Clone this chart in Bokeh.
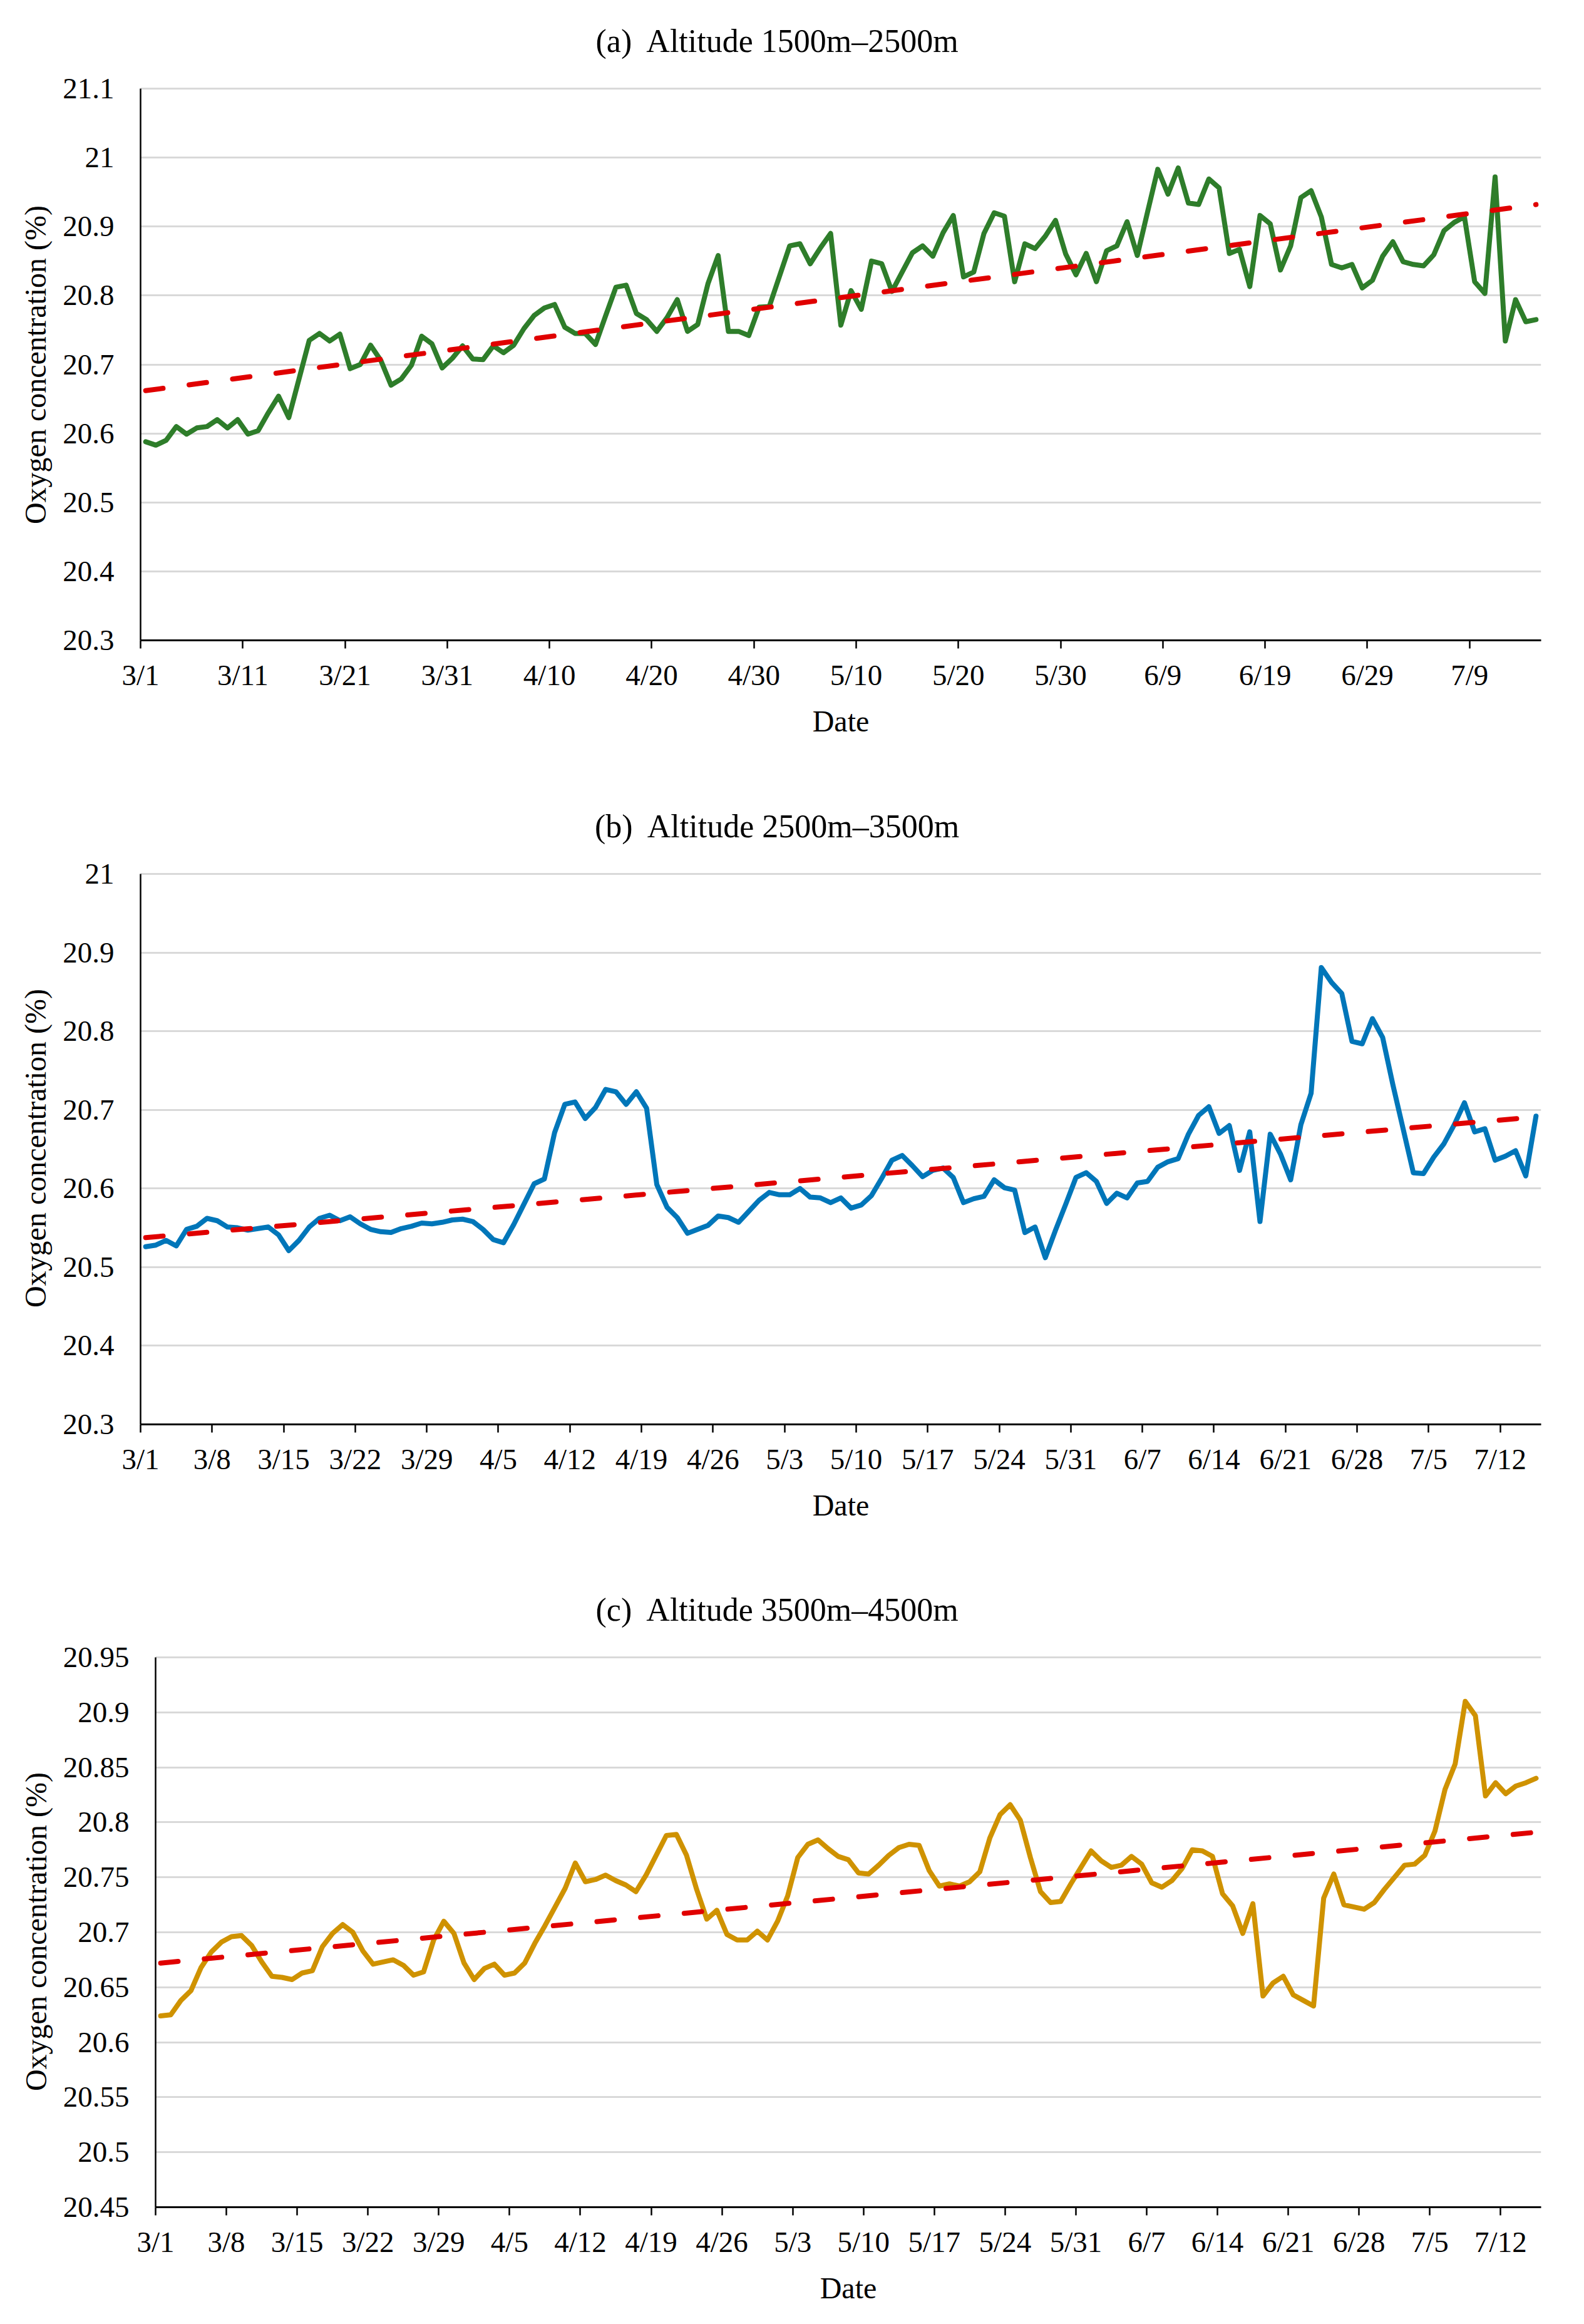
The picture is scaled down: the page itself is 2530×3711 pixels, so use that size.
import numpy as np
from bokeh.plotting import figure
from bokeh.models import FixedTicker, CustomJSTickFormatter, Range1d, Label
from bokeh.embed import file_html
from bokeh.resources import INLINE

# ---------------- data ----------------
ticks_a = ["3/1", "3/11", "3/21", "3/31", "4/10", "4/20", "4/30", "5/10", "5/20",
           "5/30", "6/9", "6/19", "6/29", "7/9"]
ticks_bc = ["3/1", "3/8", "3/15", "3/22", "3/29", "4/5", "4/12", "4/19", "4/26", "5/3",
            "5/10", "5/17", "5/24", "5/31", "6/7", "6/14", "6/21", "6/28", "7/5", "7/12"]

oxygen_a = [20.588, 20.583, 20.590, 20.610, 20.599, 20.608, 20.610, 20.620, 20.608, 20.620,
            20.599, 20.604, 20.630, 20.654, 20.623, 20.679, 20.735, 20.745, 20.734, 20.744,
            20.694, 20.700, 20.728, 20.706, 20.670, 20.679, 20.699, 20.741, 20.730, 20.695,
            20.709, 20.727, 20.708, 20.707, 20.727, 20.717, 20.728, 20.752, 20.771, 20.782,
            20.787, 20.754, 20.745, 20.745, 20.729, 20.771, 20.812, 20.815, 20.774, 20.765,
            20.748, 20.768, 20.794, 20.748, 20.758, 20.817, 20.858, 20.748, 20.748, 20.742,
            20.783, 20.784, 20.828, 20.872, 20.875, 20.846, 20.869, 20.890, 20.757, 20.807,
            20.780, 20.850, 20.846, 20.806, 20.834, 20.862, 20.872, 20.857, 20.891, 20.916,
            20.827, 20.834, 20.890, 20.920, 20.915, 20.820, 20.875, 20.868, 20.886, 20.909,
            20.860, 20.830, 20.861, 20.820, 20.865, 20.872, 20.907, 20.858, 20.921, 20.983,
            20.947, 20.985, 20.934, 20.932, 20.969, 20.956, 20.861, 20.867, 20.813, 20.916,
            20.904, 20.837, 20.872, 20.942, 20.952, 20.914, 20.845, 20.840, 20.845, 20.811,
            20.822, 20.857, 20.878, 20.849, 20.845, 20.843, 20.859, 20.894, 20.906, 20.914,
            20.820, 20.803, 20.972, 20.734, 20.794, 20.762, 20.765]

oxygen_b = [20.526, 20.528, 20.534, 20.527, 20.548, 20.552, 20.562, 20.559, 20.551, 20.550,
            20.547, 20.549, 20.551, 20.541, 20.521, 20.534, 20.551, 20.562, 20.566, 20.559,
            20.564, 20.555, 20.548, 20.545, 20.544, 20.549, 20.552, 20.556, 20.555, 20.557,
            20.560, 20.561, 20.558, 20.548, 20.535, 20.531, 20.554, 20.580, 20.606, 20.612,
            20.671, 20.707, 20.710, 20.689, 20.703, 20.726, 20.723, 20.707, 20.723, 20.702,
            20.605, 20.576, 20.563, 20.543, 20.548, 20.553, 20.565, 20.563, 20.557, 20.571,
            20.585, 20.595, 20.592, 20.592, 20.600, 20.589, 20.588, 20.582, 20.588, 20.575,
            20.579, 20.591, 20.613, 20.636, 20.642, 20.629, 20.615, 20.623, 20.626, 20.614,
            20.582, 20.587, 20.590, 20.611, 20.601, 20.598, 20.544, 20.551, 20.512, 20.547,
            20.580, 20.614, 20.620, 20.609, 20.581, 20.594, 20.588, 20.607, 20.609, 20.627,
            20.634, 20.638, 20.669, 20.693, 20.704, 20.670, 20.680, 20.623, 20.672, 20.558,
            20.669, 20.644, 20.611, 20.681, 20.721, 20.881, 20.862, 20.848, 20.787, 20.784,
            20.816, 20.792, 20.732, 20.676, 20.620, 20.619, 20.640, 20.657, 20.681, 20.709,
            20.672, 20.676, 20.636, 20.641, 20.648, 20.616, 20.692]

oxygen_c = [20.624, 20.625, 20.638, 20.647, 20.668, 20.682, 20.691, 20.696, 20.697, 20.688,
            20.673, 20.660, 20.659, 20.657, 20.663, 20.665, 20.687, 20.699, 20.707, 20.700,
            20.683, 20.671, 20.673, 20.675, 20.670, 20.661, 20.664, 20.693, 20.710, 20.699,
            20.672, 20.657, 20.667, 20.671, 20.661, 20.663, 20.672, 20.690, 20.706, 20.723,
            20.740, 20.763, 20.746, 20.748, 20.752, 20.747, 20.743, 20.737, 20.752, 20.770,
            20.788, 20.789, 20.770, 20.739, 20.712, 20.720, 20.698, 20.693, 20.693, 20.701,
            20.693, 20.710, 20.733, 20.768, 20.780, 20.784, 20.776, 20.769, 20.766, 20.754,
            20.753, 20.761, 20.770, 20.777, 20.780, 20.779, 20.756, 20.742, 20.744, 20.742,
            20.746, 20.755, 20.786, 20.807, 20.816, 20.802, 20.768, 20.737, 20.727, 20.728,
            20.744, 20.759, 20.774, 20.765, 20.759, 20.761, 20.769, 20.762, 20.745, 20.741,
            20.747, 20.758, 20.775, 20.774, 20.769, 20.735, 20.724, 20.699, 20.726, 20.642,
            20.654, 20.660, 20.643, 20.638, 20.633, 20.731, 20.753, 20.725, 20.723, 20.721,
            20.727, 20.739, 20.750, 20.761, 20.762, 20.770, 20.792, 20.830, 20.853, 20.910,
            20.897, 20.824, 20.836, 20.826, 20.833, 20.836, 20.840]

yticks_a = [20.3, 20.4, 20.5, 20.6, 20.7, 20.8, 20.9, 21.0, 21.1]
yticks_b = [20.3, 20.4, 20.5, 20.6, 20.7, 20.8, 20.9, 21.0]
yticks_c = [20.45, 20.5, 20.55, 20.6, 20.65, 20.7, 20.75, 20.8, 20.85, 20.9, 20.95]

titles = ["(a)\u00a0 Altitude 1500m\u20132500m",
          "(b)\u00a0 Altitude 2500m\u20133500m",
          "(c)\u00a0 Altitude 3500m\u20134500m"]
y_label = "Oxygen concentration (%)"
x_label = "Date"

FONT = "Liberation Serif"
RED = "#e00000"
WIDTH = 2514
RIGHT = 53
TOP_MIN = 10


def make_panel(values, title, color, yticks, xlabels, xstep, height, top, bottom, left):
    n = len(values)
    x = np.arange(n) + 0.5
    y = np.array(values)
    ylo, yhi = yticks[0], yticks[-1]
    # plot-area height for the value axis; the range is extended upward so the
    # title can sit inside the (blank) top strip of the frame
    fh = height - top - bottom
    per_px = (yhi - ylo) / fh
    y_end = yhi + (top - TOP_MIN) * per_px
    p = figure(width=WIDTH, height=height, output_backend="svg", toolbar_location=None,
               x_range=Range1d(0, n), y_range=Range1d(ylo, y_end),
               min_border_left=left, min_border_right=RIGHT,
               min_border_top=TOP_MIN, min_border_bottom=bottom)
    p.outline_line_color = None
    p.background_fill_color = "white"
    p.border_fill_color = "white"
    p.title.text = ""
    p.title.standoff = 0

    fw = WIDTH - left - RIGHT
    cx = (1242 - left) / fw * n
    ty = yhi + 76.0 * per_px
    p.add_layout(Label(x=cx, y=ty, text=title, text_font=FONT, text_font_size="52px",
                       text_color="black", text_align="center",
                       text_baseline="alphabetic"))

    # axes
    p.xaxis.ticker = FixedTicker(ticks=[i * xstep for i in range(len(xlabels))])
    p.xaxis.formatter = CustomJSTickFormatter(
        args=dict(labels=xlabels, step=xstep),
        code="var k = Math.round(tick/step); return (k >= 0 && k < labels.length) ? labels[k] : '';")
    p.yaxis.ticker = FixedTicker(ticks=yticks)
    p.yaxis.formatter = CustomJSTickFormatter(code="return String(Math.round(tick*100)/100);")
    p.yaxis.bounds = (ylo, yhi)

    for ax in (p.xaxis[0], p.yaxis[0]):
        ax.major_label_text_font = FONT
        ax.major_label_text_font_size = "47px"
        ax.major_label_text_color = "black"
        ax.axis_label_text_font = FONT
        ax.axis_label_text_font_size = "48px"
        ax.axis_label_text_font_style = "normal"
        ax.axis_label_text_color = "black"
        ax.axis_line_color = "black"
        ax.minor_tick_line_color = None

    p.xaxis.axis_label = x_label
    p.xaxis.axis_line_width = 3
    p.xaxis.major_tick_line_width = 2.5
    p.xaxis.major_tick_line_color = "black"
    p.xaxis.major_tick_out = 13
    p.xaxis.major_tick_in = 0
    p.xaxis.major_label_standoff = 16
    p.xaxis.axis_label_standoff = 18

    # the label is centred on the whole frame; pad its far end (12px per
    # no-break space) so the visible text is centred on the value axis
    pad = int(round((top - TOP_MIN) / 12.0))
    p.yaxis.axis_label = y_label + "\u00a0" * pad
    p.yaxis.axis_line_width = 2.5
    p.yaxis.major_tick_line_color = None
    p.yaxis.major_tick_out = 0
    p.yaxis.major_tick_in = 0
    p.yaxis.major_label_standoff = 42
    p.yaxis.axis_label_standoff = 14

    p.xgrid.grid_line_color = None
    p.ygrid.grid_line_color = "#d9d9d9"
    p.ygrid.grid_line_width = 3

    p.line(x, y, line_color=color, line_width=8, line_join="round", line_cap="round")

    # linear trend line (least squares on the series)
    k, b = np.polyfit(x, y, 1)
    xt = np.array([x[0], x[-1]])
    p.line(xt, k * xt + b, line_color=RED, line_width=8, line_dash="28 42",
           line_cap="round")
    return p


pa = make_panel(oxygen_a, titles[0], "#2e7d2a", yticks_a, ticks_a, 10,
                1250, 141, 228, 224)
pb = make_panel(oxygen_b, titles[1], "#0076b9", yticks_b, ticks_bc, 7,
                1252, 145, 228, 224)
pc = make_panel(oxygen_c, titles[2], "#cf9200", yticks_c, ticks_bc, 7,
                1193, 144, 171, 248)

open("out.html", "w").write(file_html([pa, pb, pc], INLINE))
